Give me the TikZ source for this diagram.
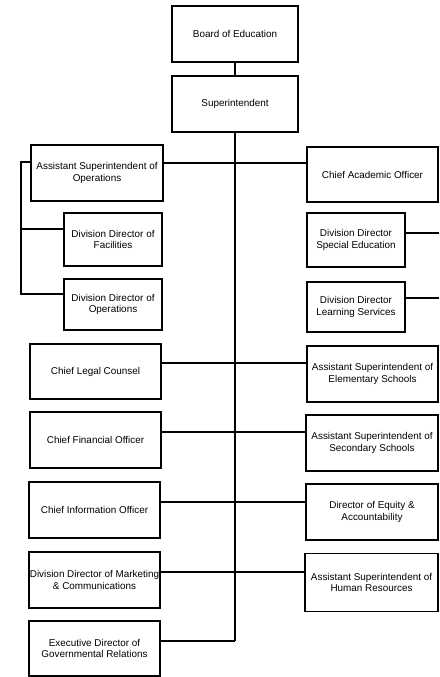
\documentclass[tikz,border=0pt]{standalone}
\usepackage{fontspec}
\setmainfont{Liberation Sans}
\begin{document}
\begin{tikzpicture}[x=1pt,y=-1pt,
  box/.style={draw,line width=1.4pt,inner sep=1pt,align=center,font=\fontsize{9.9}{11.8}\selectfont,minimum width=131pt,minimum height=56pt},
  small/.style={box,minimum width=98pt,minimum height=52pt},
  conn/.style={line width=1.4pt}]
\fill[white] (0,0) rectangle (439,677);
\useasboundingbox (0,0) rectangle (439,677);
\node[box,minimum width=126pt] (board) at (235,34) {Board of Education};
\node[box,minimum width=126pt] (sup) at (235,104) {Superintendent};
\node[box,minimum width=132pt] (aso) at (97,173) {Assistant Superintendent of\\Operations};
\node[box,minimum height=55pt] (cao) at (372.5,174.5) {Chief Academic Officer};
\node[small,minimum height=53pt] (ddf) at (113,239.5) {Division Director of\\Facilities};
\node[small,minimum height=51pt] (ddo) at (113,304.5) {Division Director of\\Operations};
\node[small,minimum height=54pt] (ddse) at (356,240) {Division Director\\Special Education};
\node[small,minimum height=50pt] (ddls) at (356,307) {Division Director\\Learning Services};
\node[box,minimum height=55pt] (clc) at (95.5,371.5) {Chief Legal Counsel};
\node[box] (ases) at (372.5,374) {Assistant Superintendent of\\Elementary Schools};
\node[box] (cfo) at (95.5,440) {Chief Financial Officer};
\node[box,minimum width=132pt] (asss) at (372,443) {Assistant Superintendent of\\Secondary Schools};
\node[box] (cio) at (94.5,510) {Chief Information Officer};
\node[box,minimum width=132pt] (dea) at (372,512) {Director of Equity \&\\Accountability};
\node[box] (ddmc) at (94.5,580) {Division Director of Marketing\\\& Communications};
\node[box,minimum width=133pt,minimum height=58pt] (ashr) at (371.5,582.5) {Assistant Superintendent of\\Human Resources};
\node[box,minimum height=55pt] (edgr) at (94.5,648.5) {Executive Director of\\Governmental Relations};
% coordinates
\coordinate (spineend) at (235,641);
\coordinate (bk) at (21,162);
\coordinate (bkf) at (21,229);
\coordinate (bko) at (21,294);
\coordinate (rse) at (439,233);
\coordinate (rls) at (439,298);
% connectors
\draw[conn] (board.south) -- (sup.north);
\draw[conn] (sup.south) -- (spineend);
\draw[conn] (aso.east |- 0,163) -- (cao.west |- 0,163);
\draw[conn] (aso.west |- bk) -- (bk) -- (bko) -- (ddo.west |- bko);
\draw[conn] (bkf) -- (ddf.west |- bkf);
\draw[conn] (ddse.east |- rse) -- (rse);
\draw[conn] (ddls.east |- rls) -- (rls);
\draw[conn] (clc.east |- 0,363) -- (ases.west |- 0,363);
\draw[conn] (cfo.east |- 0,432) -- (asss.west |- 0,432);
\draw[conn] (cio.east |- 0,502) -- (dea.west |- 0,502);
\draw[conn] (ddmc.east |- 0,572) -- (ashr.west |- 0,572);
\draw[conn] (edgr.east |- spineend) -- (spineend);
\end{tikzpicture}
\end{document}
